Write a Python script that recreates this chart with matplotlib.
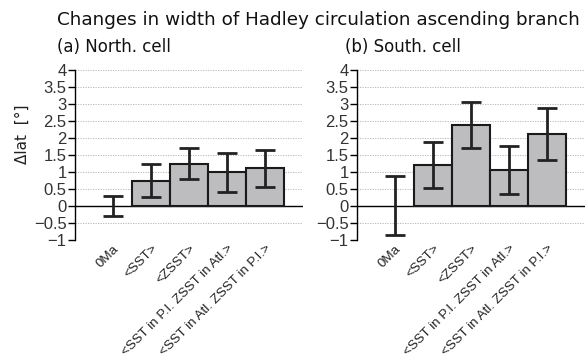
import matplotlib
matplotlib.use("Agg")
import matplotlib.pyplot as plt
import numpy as np

categories = ["0Ma", "<SST>", "<ZSST>", "<SST in P.I. ZSST in Atl.>", "<SST in Atl. ZSST in P.I.>"]
north_val = [0.0, 0.735, 1.235, 0.99, 1.11]
north_lo = [-0.29, 0.255, 0.78, 0.40, 0.57]
north_hi = [0.29, 1.225, 1.70, 1.57, 1.65]
south_val = [0.0, 1.20, 2.37, 1.05, 2.12]
south_lo = [-0.87, 0.52, 1.70, 0.34, 1.36]
south_hi = [0.87, 1.89, 3.05, 1.75, 2.87]
yticks = [-1, -0.5, 0, 0.5, 1, 1.5, 2, 2.5, 3, 3.5, 4]
yticklabels = ["\u22121", "\u22120.5", "0", "0.5", "1", "1.5", "2", "2.5", "3", "3.5", "4"]

TF = ["Liberation Sans", "DejaVu Sans"]

fig = plt.figure(figsize=(5.86, 3.57), dpi=100)
axL = fig.add_axes([0.128, 0.328, 0.389, 0.476])
axR = fig.add_axes([0.609, 0.328, 0.389, 0.476])

def panel(ax, vals, lo, hi):
    x = np.arange(1, len(vals) + 1)
    for yy in yticks:
        ax.axhline(yy, color="#b0b0b0", lw=0.6, ls=(0, (1.5, 1.5)), zorder=0)
    ax.axhline(0, color="black", lw=1.0, zorder=1)
    ax.bar(x[1:], vals[1:], width=1.0, color="#bdbdc0", edgecolor="#1a1a1a", lw=1.5, zorder=2)
    v = np.array(vals); l = np.array(lo); h = np.array(hi)
    ax.errorbar(x, v, yerr=[v - l, h - v], fmt="none", ecolor="#222222",
                elinewidth=2.0, capsize=7, capthick=2.0, zorder=3)
    ax.set_xlim(0, 6)
    ax.set_ylim(-1, 4)
    ax.set_yticks(yticks)
    ax.set_yticklabels(yticklabels, fontsize=12, color="#333333", family=TF)
    ax.set_xticks(x)
    ax.set_xticklabels(categories, rotation=45, ha="right", rotation_mode="anchor",
                       fontsize=9.6, color="#222222", family=TF)
    ax.tick_params(axis="x", length=0, pad=2)
    ax.tick_params(axis="y", length=5, width=1, direction="out", pad=1)
    for s in ["top", "right", "bottom"]:
        ax.spines[s].set_visible(False)
    ax.spines["left"].set_linewidth(1.0)

panel(axL, north_val, north_lo, north_hi)
panel(axR, south_val, south_lo, south_hi)

axL.set_ylabel("\u0394lat  [\u00b0]", fontsize=11, color="#222222")
axL.yaxis.set_label_coords(-0.2, 0.62)

fig.text(0.097, 0.945, "Changes in width of Hadley circulation ascending branch",
         fontsize=13.2, ha="left", va="center", color="#111111")
fig.text(0.097, 0.868, "(a) North. cell", fontsize=12, ha="left", va="center", color="#111111")
fig.text(0.588, 0.868, "(b) South. cell", fontsize=12, ha="left", va="center", color="#111111")

fig.savefig("out.png", dpi=100)
